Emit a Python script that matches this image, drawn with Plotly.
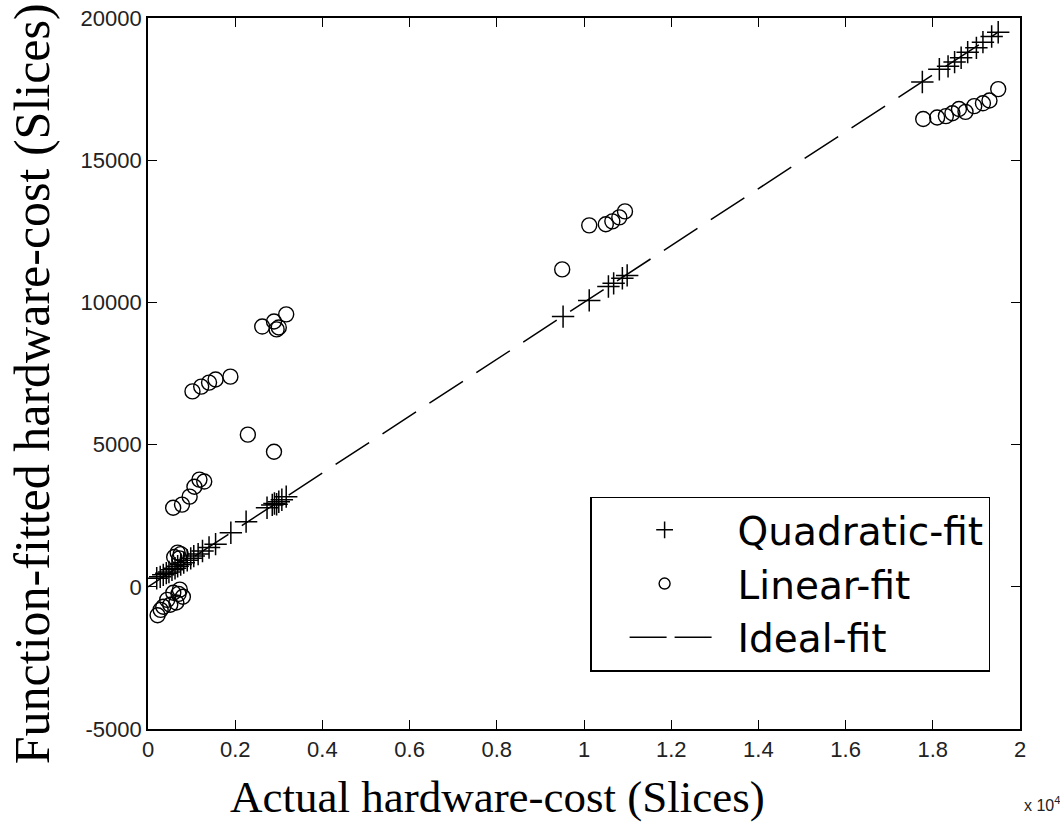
import plotly.graph_objects as go

# ---------------- data ----------------
quad_x = [200, 280, 350, 420, 480, 550, 620, 680, 750, 820, 900, 980, 1050, 1150, 1250,
          1400, 1550, 1900, 2250, 2730, 2850, 2900, 2950, 3000, 3070, 3170,
          9520, 10120, 10560, 10680, 10880, 10990,
          17760, 18150, 18350, 18500, 18650, 18800, 19000, 19150, 19350, 19500]
quad_y = [300, 350, 420, 480, 520, 600, 650, 720, 780, 850, 930, 1000, 1080, 1150, 1260,
          1380, 1500, 1900, 2290, 2780, 2880, 2930, 2900, 2990, 3060, 3170,
          9500, 10070, 10560, 10670, 10850, 10950,
          17750, 18200, 18300, 18450, 18600, 18800, 18950, 19150, 19350, 19500]

lin_x = [220, 290, 350, 440, 510, 580, 650, 730, 800, 700,
         600, 680, 750, 720,
         577, 780, 955, 1065, 1180, 1290,
         1020, 1220, 1400, 1550, 1890,
         2290, 2890,
         2620, 2890, 2950, 3000, 3170,
         9500, 10120, 10500, 10650, 10810, 10940,
         17780, 18100, 18300, 18450, 18600, 18750, 18950, 19150, 19300, 19500]
lin_y = [-1000, -810, -700, -460, -630, -210, -550, -100, -350, -250,
         1050, 1200, 1150, 1000,
         2780, 2890, 3170, 3520, 3770, 3700,
         6870, 7040, 7180, 7290, 7390,
         5350, 4750,
         9150, 9330, 9050, 9120, 9580,
         11160, 12710, 12750, 12850, 12990, 13200,
         16450, 16500, 16550, 16650, 16800, 16700, 16900, 17000, 17100, 17500]

ideal_x = [0, 19500]
ideal_y = [0, 19500]

x_tickvals = [0, 2000, 4000, 6000, 8000, 10000, 12000, 14000, 16000, 18000, 20000]
x_ticktext = ["0", "0.2", "0.4", "0.6", "0.8", "1", "1.2", "1.4", "1.6", "1.8", "2"]
y_tickvals = [-5000, 0, 5000, 10000, 15000, 20000]
y_ticktext = ["-5000", "0", "5000", "10000", "15000", "20000"]

series_names = ["Quadratic-fit", "Linear-fit", "Ideal-fit"]

# ---------------- figure ----------------
fig = go.Figure()

fig.add_trace(go.Scatter(
    x=ideal_x, y=ideal_y, mode="lines", showlegend=False,
    line=dict(color="black", width=1.5, dash="40px,16px")))

fig.add_trace(go.Scatter(
    x=quad_x, y=quad_y, mode="markers", showlegend=False,
    marker=dict(symbol="cross-thin-open", size=16, color="black",
                line=dict(color="black", width=1.5))))

fig.add_trace(go.Scatter(
    x=lin_x, y=lin_y, mode="markers", showlegend=False,
    marker=dict(symbol="circle-open", size=15, color="black",
                line=dict(color="black", width=1.4))))

# legend-only entries (smaller symbols as in the reference legend)
fig.add_trace(go.Scatter(
    x=[None], y=[None], mode="markers", name=series_names[0],
    marker=dict(symbol="cross-thin-open", size=12, color="black",
                line=dict(color="black", width=1.5))))
fig.add_trace(go.Scatter(
    x=[None], y=[None], mode="markers", name=series_names[1],
    marker=dict(symbol="circle-open", size=11, color="black",
                line=dict(color="black", width=1.4))))
fig.add_trace(go.Scatter(
    x=[None], y=[None], mode="lines", name=series_names[2],
    line=dict(color="black", width=1.5, dash="0px,33px,37px,8px,37px,300px")))

axis_common = dict(
    showgrid=False, zeroline=False, showline=True, linecolor="black", linewidth=1.6,
    mirror="ticks", ticks="inside", ticklen=9, tickwidth=1.3, tickcolor="black",
    tickfont=dict(family="Liberation Sans, Arial, sans-serif", size=22, color="#222"),
    automargin=False,
)

fig.update_xaxes(range=[0, 20000], tickvals=x_tickvals, ticktext=x_ticktext, **axis_common)
fig.update_yaxes(range=[-5000, 20000], tickvals=y_tickvals, ticktext=y_ticktext, **axis_common)

fig.update_layout(
    width=1060, height=833,
    margin=dict(l=148, r=40, t=18, b=104, autoexpand=False),
    paper_bgcolor="white", plot_bgcolor="white",
    legend=dict(
        x=0.507, y=0.327, xanchor="left", yanchor="top",
        bgcolor="white", bordercolor="black", borderwidth=1.5,
        font=dict(family="DejaVu Sans, Liberation Sans, sans-serif", size=39, color="black"),
        itemwidth=136, tracegroupgap=0,
    ),
    annotations=[
        dict(text="Actual hardware-cost (Slices)", xref="paper", yref="paper",
             x=0.401, y=-0.095, xanchor="center", yanchor="middle",
             showarrow=False,
             font=dict(family="Liberation Serif, Times New Roman, serif", size=45, color="black")),
        dict(text="Function-fitted hardware-cost (Slices)", xref="paper", yref="paper",
             x=-0.133, y=0.485, xanchor="center", yanchor="middle", textangle=-90,
             showarrow=False,
             font=dict(family="Liberation Serif, Times New Roman, serif", size=50, color="black")),
        dict(text="x 10<sup>4</sup>", xref="paper", yref="paper",
             x=1.048, y=-0.105, xanchor="right", yanchor="middle", showarrow=False,
             font=dict(family="Liberation Sans, Arial, sans-serif", size=16, color="#222")),
    ],
)

fig.write_html("out.html")
